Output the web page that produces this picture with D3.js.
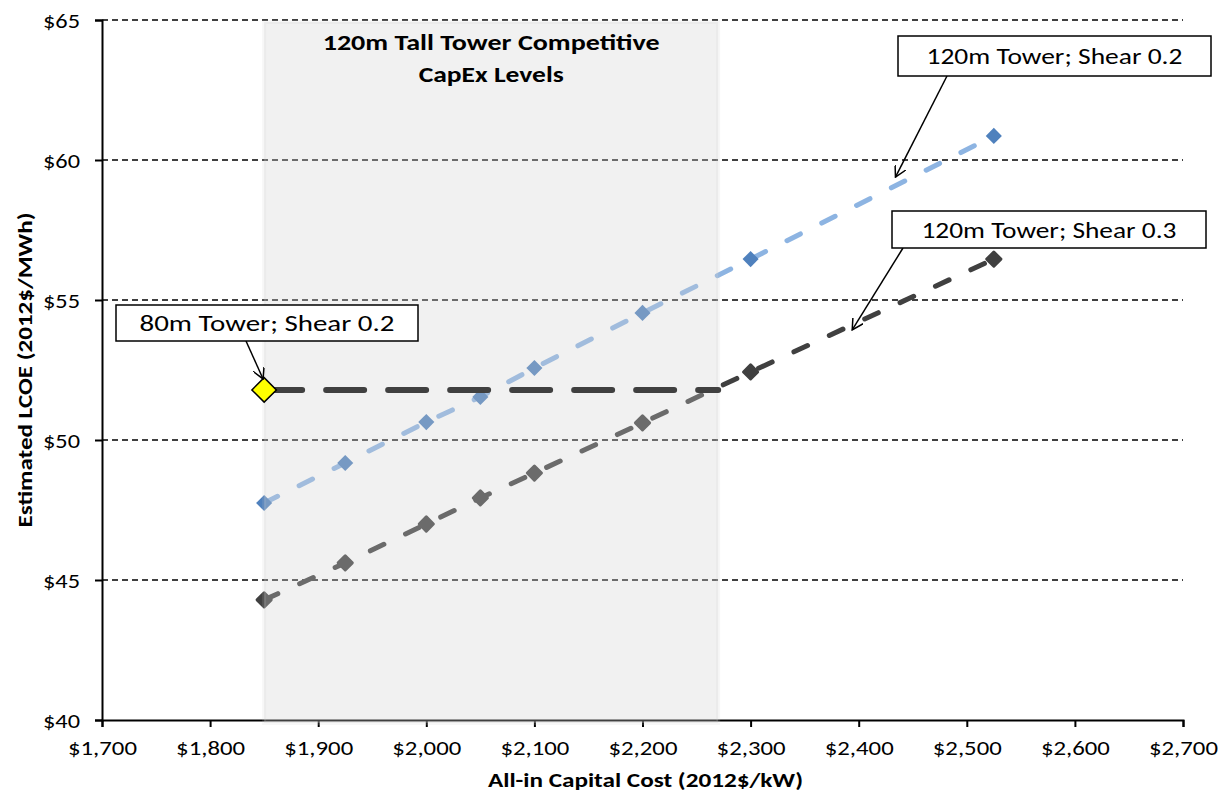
<!DOCTYPE html>
<html>
<head>
<meta charset="utf-8">
<script src="https://cdn.jsdelivr.net/npm/d3@7"></script>
<style>
  body { margin: 0; background: #fff; }
  svg { font-family: Carlito, Calibri, Lato, sans-serif; }
</style>
</head>
<body>
<svg width="1218" height="802"></svg>
<script>
// values
const capex = [1850, 1925, 2000, 2050, 2100, 2200, 2300, 2525];
const lcoeShear02 = [47.75, 49.18, 50.64, 51.54, 52.57, 54.54, 56.46, 60.86];
const lcoeShear03 = [44.29, 45.61, 47.0, 47.93, 48.82, 50.61, 52.43, 56.46];
const tower80Capex = [1850, 2270];
const tower80Lcoe = [51.79, 51.79];
const competitiveRange = [1850, 2270];
const xTicks = [1700, 1800, 1900, 2000, 2100, 2200, 2300, 2400, 2500, 2600, 2700];
const yTicks = [40, 45, 50, 55, 60, 65];

const svg = d3.select("svg");
const x = d3.scaleLinear().domain([1700, 2700]).range([102, 1183]);
const y = d3.scaleLinear().domain([40, 65]).range([720, 20]);

const fmtX = d => "$" + d3.format(",")(d);

//The source chart was stretched sideways, so widths are forced per text
function stretch(sel, w) {
  sel.attr("textLength", w).attr("lengthAdjust", "spacingAndGlyphs");
}

//Gridlines
svg.append("g")
  .selectAll("line")
  .data(yTicks.filter(d => d > 40))
  .join("line")
    .attr("x1", x(1700)).attr("x2", x(2700))
    .attr("y1", d => y(d)).attr("y2", d => y(d))
    .attr("stroke", "#000")
    .attr("stroke-width", 1.3)
    .attr("stroke-dasharray", "6,4");

//Axes
const xAxis = svg.append("g")
  .attr("transform", `translate(0,${y(40)})`)
  .call(d3.axisBottom(x).tickValues(xTicks).tickFormat(fmtX).tickSizeOuter(0).tickSize(7));
const yAxis = svg.append("g")
  .attr("transform", `translate(${x(1700)},0)`)
  .call(d3.axisLeft(y).tickValues(yTicks).tickFormat(d => "$" + d).tickSizeOuter(0).tickSize(7).tickPadding(15));
[xAxis, yAxis].forEach(a => {
  a.select(".domain").attr("stroke", "#000").attr("stroke-width", 2);
  a.selectAll(".tick line").attr("stroke", "#000").attr("stroke-width", 2);
  a.selectAll("text").attr("fill", "#000").style("font-size", "21px").style("font-family", "Carlito, Calibri, Lato, sans-serif");
});
xAxis.selectAll("text").attr("y", 35).attr("dy", null).call(stretch, 69);
yAxis.selectAll("text").attr("dy", "0.36em").call(stretch, 37);

//Series behind the shaded band
const line = d3.line().x(d => x(d[0])).y(d => y(d[1]));
const series = [
  { vals: lcoeShear02, line: "#8DB4E2", mark: "#4F81BD", size: 130, sw: 0 },
  { vals: lcoeShear03, line: "#404040", mark: "#404040", size: 100, sw: 3 }
];
series.forEach(s => {
  const pts = d3.zip(capex, s.vals);
  svg.append("path")
    .datum(pts)
    .attr("d", line)
    .attr("fill", "none")
    .attr("stroke", s.line)
    .attr("stroke-width", 5)
    .attr("stroke-linecap", "round")
    .attr("stroke-dasharray", "15,24");
  svg.append("g")
    .selectAll("path")
    .data(pts)
    .join("path")
      .attr("d", d3.symbol(d3.symbolSquare, s.size))
      .attr("transform", d => `translate(${x(d[0])},${y(d[1])}) rotate(45)`)
      .attr("fill", s.mark)
      .attr("stroke", s.mark)
      .attr("stroke-width", s.sw)
      .attr("stroke-linejoin", "round");
});

//Competitive CapEx band (semi-transparent, on top of the series)
svg.append("rect")
  .attr("x", x(competitiveRange[0]))
  .attr("width", x(competitiveRange[1]) - x(competitiveRange[0]))
  .attr("y", y(65) + 2)
  .attr("height", y(40) - y(65) + 1)
  .attr("fill", "rgb(210,210,210)")
  .attr("fill-opacity", 0.3)
  .attr("stroke", "rgb(200,200,200)")
  .attr("stroke-opacity", 0.15)
  .attr("stroke-width", 4);

const bandMid = (x(competitiveRange[0]) + x(competitiveRange[1])) / 2;
svg.append("text")
  .attr("text-anchor", "middle")
  .attr("font-weight", "bold")
  .style("font-size", "22px")
  .selectAll("tspan")
  .data([["120m Tall Tower Competitive", 337], ["CapEx Levels", 145]])
  .join("tspan")
    .attr("x", bandMid)
    .attr("y", (d, i) => 50 + i * 32)
    .text(d => d[0])
    .each(function(d) { d3.select(this).call(stretch, d[1]); });

//80m reference line
svg.append("path")
  .datum(d3.zip(tower80Capex, tower80Lcoe))
  .attr("d", line)
  .attr("fill", "none")
  .attr("stroke", "#404040")
  .attr("stroke-width", 6)
  .attr("stroke-linecap", "round")
  .attr("stroke-dasharray", "38,24");
svg.append("path")
  .attr("d", d3.symbol(d3.symbolSquare, 300))
  .attr("transform", `translate(${x(tower80Capex[0])},${y(tower80Lcoe[0])}) rotate(45)`)
  .attr("fill", "#FFFF00")
  .attr("stroke", "#000")
  .attr("stroke-width", 1.5);

//Callouts
svg.append("defs").append("marker")
  .attr("id", "arrow")
  .attr("viewBox", "0 0 12 12")
  .attr("refX", 11).attr("refY", 6)
  .attr("markerWidth", 12).attr("markerHeight", 12)
  .attr("markerUnits", "userSpaceOnUse")
  .attr("orient", "auto")
  .append("path")
    .attr("d", "M0,0 L11,6 L0,12")
    .attr("fill", "none")
    .attr("stroke", "#000")
    .attr("stroke-width", 1.5);

const callouts = [
  { label: "120m Tower; Shear 0.2", w: 256, tip: [2434, 59.39], box: [898, 36, 313, 40], from: [947, 76] },
  { label: "120m Tower; Shear 0.3", w: 255, tip: [2394, 53.93], box: [892, 211, 314, 37], from: [903, 248] },
  { label: "80m Tower; Shear 0.2", w: 255, tip: [1849, 52.18], box: [116, 305, 302, 36], from: [246, 341] }
];
callouts.forEach(c => {
  svg.append("line")
    .attr("x1", c.from[0]).attr("y1", c.from[1])
    .attr("x2", x(c.tip[0])).attr("y2", y(c.tip[1]))
    .attr("stroke", "#000")
    .attr("stroke-width", 1.5)
    .attr("marker-end", "url(#arrow)");
  svg.append("rect")
    .attr("x", c.box[0]).attr("y", c.box[1])
    .attr("width", c.box[2]).attr("height", c.box[3])
    .attr("fill", "#fff")
    .attr("stroke", "#000")
    .attr("stroke-width", 1.5);
  svg.append("text")
    .attr("x", c.box[0] + c.box[2] / 2)
    .attr("y", c.box[1] + c.box[3] / 2 + 8)
    .attr("text-anchor", "middle")
    .style("font-size", "23px")
    .text(c.label)
    .call(stretch, c.w);
});

//Axis titles
svg.append("text")
  .attr("x", (x(1700) + x(2700)) / 2 + 3)
  .attr("y", 787)
  .attr("text-anchor", "middle")
  .attr("font-weight", "bold")
  .style("font-size", "21px")
  .text("All-in Capital Cost (2012$/kW)")
  .call(stretch, 315);
svg.append("text")
  .attr("transform", `translate(32,${(y(40) + y(65)) / 2}) rotate(-90)`)
  .attr("text-anchor", "middle")
  .attr("font-weight", "bold")
  .style("font-size", "21px")
  .text("Estimated LCOE (2012$/MWh)")
  .call(stretch, 315);
</script>
</body>
</html>
